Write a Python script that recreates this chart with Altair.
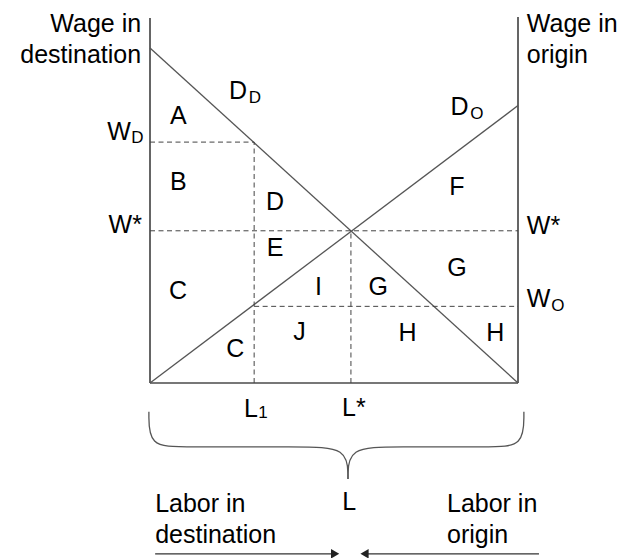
import altair as alt
import pandas as pd

# ---- economic values (labour 0..10 on x, wage 0..10 on y) ----
L_TOTAL = 10.0
L1 = 2.83
L_STAR = 5.46
W_D = 6.6
W_STAR = 4.17
W_O = 2.1
DD_START = 9.18   # D_D at L = 0
DO_END = 7.6      # D_O at L = L_TOTAL
AXIS_TOP = 10.0

# ---- segments ----
axis_x = [0, L_TOTAL, 0]
axis_y = [0, 0, 0]
axis_x2 = [0, L_TOTAL, L_TOTAL]
axis_y2 = [AXIS_TOP, AXIS_TOP + 0.03, 0]

curve_x = [0, 0]
curve_y = [DD_START, 0]
curve_x2 = [L_TOTAL, L_TOTAL]
curve_y2 = [0, DO_END]

dash_x = [0, L1, 0, L_STAR, L1]
dash_y = [W_D, 0, W_STAR, 0, W_O]
dash_x2 = [L1, L1, L_TOTAL, L_STAR, L_TOTAL]
dash_y2 = [W_D, W_D, W_STAR, W_STAR, W_O]

arrow_y = -4.68
arrow_x = [0.14, 10.57]
arrow_x2 = [5.03, 5.83]
arrow_head_x = [5.03, 5.83]
arrow_head_shape = ["triangle-right", "triangle-left"]

# ---- brace (control polygon, smoothed with basis) ----
brace_side = ["left"] * 6 + ["right"] * 6
brace_order = list(range(6)) * 2
brace_x = [-0.03, -0.03, 0.90, 4.08, 5.38, 5.38,
           10.16, 10.16, 9.24, 6.68, 5.38, 5.38]
brace_y = [-0.79, -1.75, -1.75, -1.75, -1.75, -2.63,
           -0.79, -1.75, -1.75, -1.75, -1.75, -2.63]

# ---- area letters ----
area_text = ["A", "B", "C", "D", "E", "I", "G", "G", "F", "J", "C", "H", "H"]
area_x = [0.77, 0.77, 0.76, 3.40, 3.40, 4.58, 6.20, 8.34, 8.34, 4.06, 2.32, 7.00, 9.38]
area_y = [7.32, 5.52, 2.52, 4.96, 3.70, 2.63, 2.63, 3.14, 5.38, 1.40, 0.92, 1.37, 1.37]

# ---- main symbols with subscripts ----
sym_text = ["D", "D", "W", "L"]
sym_x = [2.39, 8.41, 10.56, 2.74]
sym_y = [7.99, 7.56, 2.30, -0.70]
sub_text = ["D", "O", "O", "1"]
sub_x = [2.85, 8.88, 11.08, 3.07]
sub_y = [7.82, 7.37, 2.10, -0.82]

# W_D on the left
wd_text = ["W"]
wd_x = [-0.84]
wd_y = [6.88]
wd_sub = ["D"]
wd_sub_x = [-0.34]
wd_sub_y = [6.70]

# plain labels, centred
plain_text = ["L*", "L"]
plain_x = [5.54, 5.41]
plain_y = [-0.68, -3.25]

wstar_l_text = ["W*"]
wstar_l_x = [-0.22]
wstar_l_y = [4.34]

wstar_r_text = ["W*"]
wstar_r_x = [10.24]
wstar_r_y = [4.30]

# word labels (baseline positions)
left_words = ["Wage in", "destination"]
left_words_x = [-0.24, -0.24]
left_words_y = [9.63, 8.77]
right_words = ["Wage in", "origin", "Labor in", "destination", "Labor in", "origin"]
right_words_x = [10.24, 10.24, 0.14, 0.14, 8.07, 8.07]
right_words_y = [9.63, 8.77, -3.53, -4.38, -3.53, -4.38]

FONT = "Liberation Sans"
FS = 25
SUB_FS = 17
LINE = "#555555"

xs = alt.Scale(domain=[0, 10], nice=False, zero=False)
ys = alt.Scale(domain=[0, 10], nice=False, zero=False)


def X(f="x"):
    return alt.X(f"{f}:Q", scale=xs, axis=None)


def Y(f="y"):
    return alt.Y(f"{f}:Q", scale=ys, axis=None)


def seg_df(x, y, x2, y2):
    return pd.DataFrame({"x": x, "y": y, "x2": x2, "y2": y2})


axes = alt.Chart(seg_df(axis_x, axis_y, axis_x2, axis_y2)).mark_rule(
    color="#4a4a4a", strokeWidth=1.7
).encode(x=X(), y=Y(), x2="x2:Q", y2="y2:Q")

curves = alt.Chart(seg_df(curve_x, curve_y, curve_x2, curve_y2)).mark_rule(
    color=LINE, strokeWidth=1.3
).encode(x=X(), y=Y(), x2="x2:Q", y2="y2:Q")

dashes = alt.Chart(seg_df(dash_x, dash_y, dash_x2, dash_y2)).mark_rule(
    color="#444444", strokeWidth=1, strokeDash=[5, 3.5]
).encode(x=X(), y=Y(), x2="x2:Q", y2="y2:Q")

arrows = alt.Chart(seg_df(arrow_x, [arrow_y] * 2, arrow_x2, [arrow_y] * 2)).mark_rule(
    color="#333333", strokeWidth=1.3
).encode(x=X(), y=Y(), x2="x2:Q", y2="y2:Q")

heads = alt.Chart(pd.DataFrame({"x": arrow_head_x, "y": [arrow_y] * 2, "s": arrow_head_shape})).mark_point(
    filled=True, color="#222222", size=90, opacity=1
).encode(x=X(), y=Y(), shape=alt.Shape("s:N", scale=None, legend=None))

brace = alt.Chart(pd.DataFrame({"x": brace_x, "y": brace_y, "side": brace_side, "o": brace_order})).mark_line(
    color=LINE, strokeWidth=1.3, interpolate="basis"
).encode(x=X(), y=Y(), detail="side:N", order="o:Q")


def text_layer(texts, x, y, size=FS, align="center", baseline="middle"):
    df = pd.DataFrame({"t": texts, "x": x, "y": y})
    return alt.Chart(df).mark_text(
        font=FONT, fontSize=size, align=align, baseline=baseline, color="#000000"
    ).encode(x=X(), y=Y(), text="t:N")


layers = [
    axes, curves, dashes, brace, arrows, heads,
    text_layer(area_text, area_x, area_y),
    text_layer(sym_text, sym_x, sym_y),
    text_layer(sub_text, sub_x, sub_y, size=SUB_FS),
    text_layer(wd_text, wd_x, wd_y),
    text_layer(wd_sub, wd_sub_x, wd_sub_y, size=SUB_FS),
    text_layer(plain_text, plain_x, plain_y),
    text_layer(wstar_l_text, wstar_l_x, wstar_l_y, align="right"),
    text_layer(wstar_r_text, wstar_r_x, wstar_r_y, align="left"),
    text_layer(left_words, left_words_x, left_words_y, align="right", baseline="alphabetic"),
    text_layer(right_words, right_words_x, right_words_y, align="left", baseline="alphabetic"),
]

chart = alt.layer(*layers).properties(
    width=368,
    height=365,
    autosize=alt.AutoSizeParams(type="none"),
    padding={"left": 142, "top": 10, "right": 112, "bottom": 175},
).configure_view(stroke=None)

chart.save("out.html", embed_options={"renderer": "svg", "actions": False})
